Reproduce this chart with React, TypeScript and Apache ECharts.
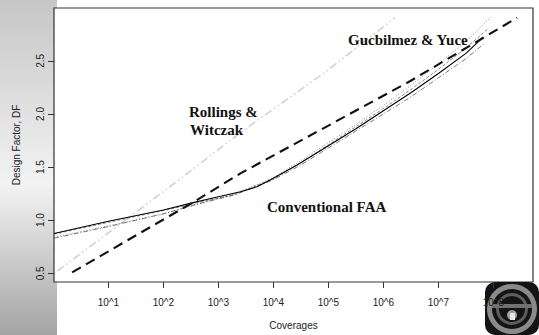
import React, { useEffect, useRef } from "react";
import * as echarts from "echarts";

// Axis ticks (x axis is log10 of coverages)
const xTicks = [1, 2, 3, 4, 5, 6, 7, 8];
const yTicks = [0.5, 1.0, 1.5, 2.0, 2.5];

// Conventional FAA (solid)
const faaLog = [0.01, 1.0, 2.0, 2.54, 3.0, 3.4, 3.7, 3.94, 4.43, 5.0, 5.5, 6.0, 6.5, 7.0, 7.5, 7.81];
const faaDF = [0.875, 0.99, 1.095, 1.165, 1.22, 1.268, 1.314, 1.378, 1.52, 1.7, 1.86, 2.03, 2.2, 2.38, 2.57, 2.72];

// Gucbilmez & Yuce variants (thin lines)
const gy1Log = [0.01, 1.0, 2.0, 2.54, 3.3, 4.0, 4.5, 5.0, 5.5, 6.0, 6.5, 7.0, 7.5, 7.9];
const gy1DF = [0.868, 0.98, 1.09, 1.155, 1.24, 1.39, 1.54, 1.71, 1.88, 2.05, 2.23, 2.42, 2.62, 2.8];
const gy2Log = [0.01, 1.0, 2.0, 2.54, 3.3, 4.0, 4.5, 5.0, 5.5, 6.0, 6.5, 7.0, 7.5, 7.95];
const gy2DF = [0.84, 0.945, 1.06, 1.14, 1.25, 1.4, 1.56, 1.73, 1.9, 2.08, 2.27, 2.47, 2.68, 2.91];
const gy3Log = [0.01, 1.0, 2.0, 2.54, 3.3, 4.0, 4.5, 5.0, 5.5, 6.0, 6.5, 7.0, 7.5, 7.85];
const gy3DF = [0.83, 0.94, 1.06, 1.14, 1.24, 1.38, 1.52, 1.68, 1.84, 2.0, 2.16, 2.34, 2.52, 2.67];

// Thick dashed line
const dashLog = [0.34, 2.54, 3.4, 6.49, 8.43];
const dashDF = [0.509, 1.168, 1.44, 2.31, 2.905];

// Rollings & Witczak (light grey dash-dot-dot)
const rwLog = [0.07, 2.16, 3.43, 4.96, 6.21];
const rwDF = [0.52, 1.332, 1.835, 2.4, 2.905];

const zip = (a: number[], b: number[]) => a.map((v, i) => [v, b[i]]);

export default function App() {
  const ref = useRef<HTMLDivElement>(null);
  useEffect(() => {
    if (!ref.current) return;
    const chart = echarts.init(ref.current, null, { renderer: "svg" });
    const serif = "'Liberation Serif', 'Times New Roman', Times, serif";
    const sans = "'Liberation Sans', Arial, Helvetica, sans-serif";
    const line = (name: string, data: number[][], color: string, width: number, type: any, z = 2) => ({
      type: "line",
      name,
      data,
      symbol: "none",
      smooth: false,
      clip: true,
      z,
      lineStyle: { color, width, type },
    });
    const label = (text: string, left: number, top: number) => ({
      type: "text",
      left,
      top,
      z: 20,
      style: { text, font: `bold 15px ${serif}`, fill: "#111" },
    });
    chart.setOption({
      animation: false,
      backgroundColor: "#ffffff",
      grid: { left: 54, right: 6, top: 8, bottom: 45, containLabel: false, show: true, borderColor: "#333", borderWidth: 1.2, backgroundColor: "#fff" },
      xAxis: {
        type: "value",
        min: 0.01,
        max: 8.72,
        name: "Coverages",
        nameLocation: "middle",
        nameGap: 38,
        nameTextStyle: { fontFamily: sans, fontSize: 10, color: "#222" },
        axisLine: { show: false },
        splitLine: { show: false },
        axisTick: { show: true, inside: false, length: 6, customValues: xTicks, lineStyle: { color: "#333" } },
        axisLabel: { customValues: xTicks, formatter: (v: number) => "10^" + v, fontFamily: sans, fontSize: 10, color: "#222", margin: 15 },
      },
      yAxis: {
        type: "value",
        min: 0.418,
        max: 2.997,
        name: "Design Factor, DF",
        nameLocation: "middle",
        nameGap: 33,
        nameRotate: 90,
        nameTextStyle: { fontFamily: sans, fontSize: 10, color: "#222" },
        axisLine: { show: false },
        splitLine: { show: false },
        axisTick: { show: true, inside: false, length: 6, customValues: yTicks, lineStyle: { color: "#333" } },
        axisLabel: { customValues: yTicks, rotate: 90, formatter: (v: number) => v.toFixed(1), fontFamily: sans, fontSize: 10, color: "#222", margin: 9 },
      },
      graphic: [
        {
          type: "rect",
          z: -10,
          silent: true,
          shape: { x: 0, y: 0, width: 57, height: 335 },
          style: {
            fill: new echarts.graphic.LinearGradient(0, 0, 0, 1, [
              { offset: 0, color: "#c6c6c6" },
              { offset: 0.55, color: "#f3f3f3" },
              { offset: 1, color: "#a4a4a4" },
            ]),
          },
        },
        label("Rollings &", 189, 104),
        label("Witczak", 190, 122),
        label("Gucbilmez & Yuce", 348, 32),
        label("Conventional FAA", 267, 199),
        {
          type: "group",
          z: 30,
          children: [
            { type: "rect", shape: { x: 485, y: 282, width: 54, height: 53, r: 10 }, style: { fill: "#141414" } },
            { type: "ring", shape: { cx: 512, cy: 309, r: 25, r0: 20 }, style: { fill: "#8a8a8a" } },
            { type: "ring", shape: { cx: 512, cy: 309, r: 16, r0: 13 }, style: { fill: "#5e5e5e" } },
            { type: "rect", shape: { x: 492, y: 304, width: 40, height: 4 }, style: { fill: "#707070" } },
            { type: "circle", shape: { cx: 512, cy: 315, r: 5 }, style: { fill: "#a0a0a0" } },
            { type: "rect", shape: { x: 510, y: 313, width: 5, height: 7 }, style: { fill: "#e8e8e8" } },
          ],
        },
      ],
      series: [
        line("Rollings & Witczak", zip(rwLog, rwDF), "#cfcfcf", 1.5, [8, 3, 1.5, 3, 1.5, 3]),
        line("GY1", zip(gy1Log, gy1DF), "#666", 0.8, [3, 2]),
        line("GY2", zip(gy2Log, gy2DF), "#555", 0.7, [1, 2]),
        line("GY3", zip(gy3Log, gy3DF), "#444", 0.7, [5, 2, 1, 2]),
        line("Conventional FAA", zip(faaLog, faaDF), "#000", 1.1, "solid", 3),
        line("Dashed", zip(dashLog, dashDF), "#111", 2.1, [10, 6], 4),
      ],
    });
    return () => chart.dispose();
  }, []);
  return <div ref={ref} style={{ position: "fixed", left: 0, top: 0, width: 539, height: 335 }} />;
}
